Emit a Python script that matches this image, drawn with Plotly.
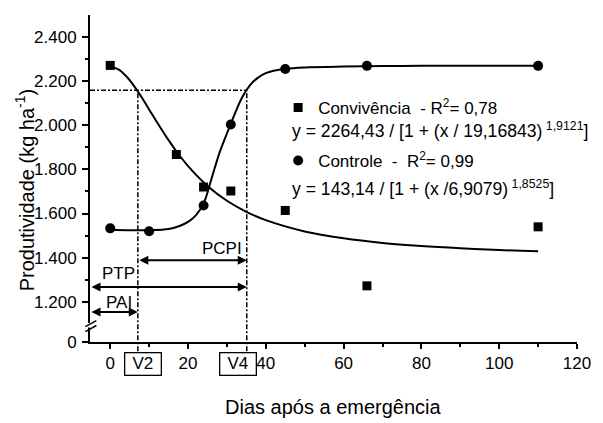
import plotly.graph_objects as go

# ---------------- data ----------------
days = [0, 17, 24, 31, 45, 66, 110]
convivencia = [2270, 1867, 1720, 1702, 1614, 1273, 1540]
controle_days = [0, 10, 24, 31, 45, 66, 110]
controle = [1533, 1520, 1636, 2003, 2254, 2268, 2268]

# fitted curves
conv_fit_x = [0, 2, 4, 6, 8, 10, 12, 15, 18, 21, 25, 30, 35, 40, 50, 60, 70, 80, 90, 100, 110]
conv_fit_y = [2264, 2253, 2223, 2180, 2128, 2071, 2014, 1932, 1858, 1795, 1725, 1658, 1608,
              1570, 1519, 1488, 1467, 1453, 1443, 1435, 1430]
ctrl_fit_x = [0, 5, 10, 15, 18, 20, 22, 24, 26, 28, 30, 32, 34, 36, 38, 40, 42, 45, 50, 60, 70, 80, 90, 100, 110]
ctrl_fit_y = [1527, 1525, 1525, 1530, 1545, 1562, 1592, 1645, 1755, 1870, 1962, 2050, 2128, 2182,
              2215, 2235, 2246, 2255, 2261, 2265, 2267, 2268, 2268, 2268, 2268]

# critical periods
V2_DAY = 7.1
V4_DAY = 35.1
Y_CRIT = 2158
stage_labels = ["V2", "V4"]
stage_label_pos = [8.3, 32.8]

x_tick_vals = [0, 20, 40, 60, 80, 100, 120]
y_tick_vals = [1200, 1400, 1600, 1800, 2000, 2200, 2400]
y_tick_text = ["1.200", "1.400", "1.600", "1.800", "2.000", "2.200", "2.400"]
Y_ZERO = 1019          # broken-axis position of the "0" label
Y_TOP = 2498
X_MIN, X_MAX = -5.2, 120

FONT = "Liberation Sans, Arial, sans-serif"

fig = go.Figure()

fig.add_trace(go.Scatter(x=conv_fit_x, y=conv_fit_y, mode="lines", line=dict(color="black", width=2, shape="spline"),
                         showlegend=False, hoverinfo="skip"))
fig.add_trace(go.Scatter(x=ctrl_fit_x, y=ctrl_fit_y, mode="lines", line=dict(color="black", width=2, shape="spline"),
                         showlegend=False, hoverinfo="skip"))
fig.add_trace(go.Scatter(x=days, y=convivencia, mode="markers",
                         marker=dict(symbol="square", size=9, color="black"),
                         name="Convivência\u00a0\u00a0-\u00a0R<sup>2</sup>= 0,78", legend="legend"))
fig.add_trace(go.Scatter(x=controle_days, y=controle, mode="markers",
                         marker=dict(symbol="circle", size=10, color="black"),
                         name="Controle\u00a0\u00a0-\u00a0\u00a0R<sup>2</sup>= 0,99", legend="legend2"))

def yfrac(v):
    return (v - Y_ZERO) / (Y_TOP - Y_ZERO)

dash = "5px,2px,2px,2px"
shapes = [
    dict(type="line", xref="x", yref="y", x0=X_MIN, x1=V4_DAY, y0=Y_CRIT, y1=Y_CRIT,
         line=dict(color="black", width=1.5, dash=dash)),
    dict(type="line", xref="x", yref="paper", x0=V2_DAY, x1=V2_DAY, y0=-0.028, y1=yfrac(Y_CRIT),
         line=dict(color="black", width=1.5, dash=dash)),
    dict(type="line", xref="x", yref="paper", x0=V4_DAY, x1=V4_DAY, y0=-0.028, y1=yfrac(Y_CRIT),
         line=dict(color="black", width=1.5, dash=dash)),
    # axis break
    dict(type="rect", xref="paper", yref="paper", x0=-0.008, x1=0.008, y0=(342 - 327.5) / 327, y1=(342 - 323) / 327,
         fillcolor="white", line=dict(width=0), layer="above"),
    dict(type="line", xref="paper", yref="paper", x0=(85.3 - 90) / 497, x1=(96.5 - 90) / 497,
         y0=(342 - 326.7) / 327, y1=(342 - 320.7) / 327, line=dict(color="black", width=1.5)),
    dict(type="line", xref="paper", yref="paper", x0=(85.3 - 90) / 497, x1=(96.5 - 90) / 497,
         y0=(342 - 331.7) / 327, y1=(342 - 325.5) / 327, line=dict(color="black", width=1.5)),
]

annotations = []
# double-headed arrows
for (xa, xb, yv) in [(V2_DAY, V4_DAY, 1389), (X_MIN, V4_DAY, 1268), (X_MIN, V2_DAY, 1155)]:
    annotations.append(dict(x=xb, y=yv, ax=xa, ay=yv, xref="x", yref="y", axref="x", ayref="y",
                            text="", showarrow=True, arrowhead=2, arrowside="end+start",
                            arrowsize=0.9, arrowwidth=2, arrowcolor="black", standoff=0, startstandoff=0))
for (txt, xv, yv) in [("PCPI", 28.8, 1443), ("PTP", 2.1, 1329), ("PAI", 2.2, 1199)]:
    annotations.append(dict(x=xv, y=yv, xref="x", yref="y", text=txt, showarrow=False,
                            xanchor="center", yanchor="middle",
                            font=dict(family=FONT, size=17, color="black")))
# boxed stage labels
for lab, pos in zip(stage_labels, stage_label_pos):
    annotations.append(dict(x=pos, y=(342 - 364) / 327, xref="x", yref="paper", text=lab, showarrow=False,
                            xanchor="center", yanchor="middle",
                            font=dict(family=FONT, size=17, color="black"), bordercolor="black",
                            borderwidth=1.3, borderpad=1, width=33, height=19, bgcolor="white"))
# equations
annotations.append(dict(x=(294 - 90) / 497, y=(342 - 130) / 327, xref="paper", yref="paper", xanchor="left",
                        yanchor="middle", showarrow=False,
                        text="y = 2264,43 / [1 + (x / 19,16843)<sup> 1,9121</sup>]",
                        font=dict(family=FONT, size=17.6, color="black")))
annotations.append(dict(x=(294 - 90) / 497, y=(342 - 188) / 327, xref="paper", yref="paper", xanchor="left",
                        yanchor="middle", showarrow=False,
                        text="y = 143,14 / [1 + (x /6,9079)<sup> 1,8525</sup>]",
                        font=dict(family=FONT, size=17.6, color="black")))
# axis titles
annotations.append(dict(x=0.5, y=(342 - 407) / 327, xref="paper", yref="paper", showarrow=False,
                        xanchor="center", yanchor="middle",
                        text="Dias após a emergência", font=dict(family=FONT, size=20, color="black")))
annotations.append(dict(x=(23 - 90) / 497, y=(342 - 190) / 327, xref="paper", yref="paper", showarrow=False,
                        xanchor="center", yanchor="middle",
                        textangle=-90, text="Produtividade (kg ha<sup>-1</sup>)",
                        font=dict(family=FONT, size=20, color="black")))

fig.update_layout(
    width=603, height=423, autosize=False,
    margin=dict(l=90, r=16, t=15, b=81),
    plot_bgcolor="white", paper_bgcolor="white",
    font=dict(family=FONT, color="black"),
    shapes=shapes, annotations=annotations,
    legend=dict(x=(282 - 90) / 497, xanchor="left", y=(342 - 108) / 327, yanchor="middle",
                bgcolor="rgba(0,0,0,0)", font=dict(family=FONT, size=17, color="black")),
    legend2=dict(x=(282 - 90) / 497, xanchor="left", y=(342 - 161) / 327, yanchor="middle",
                 bgcolor="rgba(0,0,0,0)", font=dict(family=FONT, size=17, color="black")),
)
fig.update_xaxes(range=[X_MIN, X_MAX], showgrid=False, zeroline=False, showline=True, linecolor="black",
                 linewidth=2, ticks="outside", ticklen=5, tickwidth=1.5, tickcolor="black",
                 tickvals=x_tick_vals, ticklabelstandoff=0,
                 minor=dict(tickvals=[10, 30, 50, 70, 90, 110], ticks="outside", ticklen=3, tickwidth=1.5,
                            tickcolor="black"),
                 tickfont=dict(family=FONT, size=17, color="black"))
fig.update_yaxes(range=[Y_ZERO, Y_TOP], showgrid=False, zeroline=False, showline=True, linecolor="black",
                 linewidth=2, ticks="outside", ticklen=6, tickwidth=1.5, tickcolor="black",
                 tickvals=[Y_ZERO] + y_tick_vals, ticktext=["0"] + y_tick_text, ticklabelstandoff=2,
                 minor=dict(tickvals=[1300, 1500, 1700, 1900, 2100, 2300], ticks="outside", ticklen=3,
                            tickwidth=1.5, tickcolor="black"),
                 tickfont=dict(family=FONT, size=17, color="black"))

fig.write_html("out.html", config={"displayModeBar": False},
               post_script="document.body.style.margin='0px';document.documentElement.style.overflow='hidden';")
